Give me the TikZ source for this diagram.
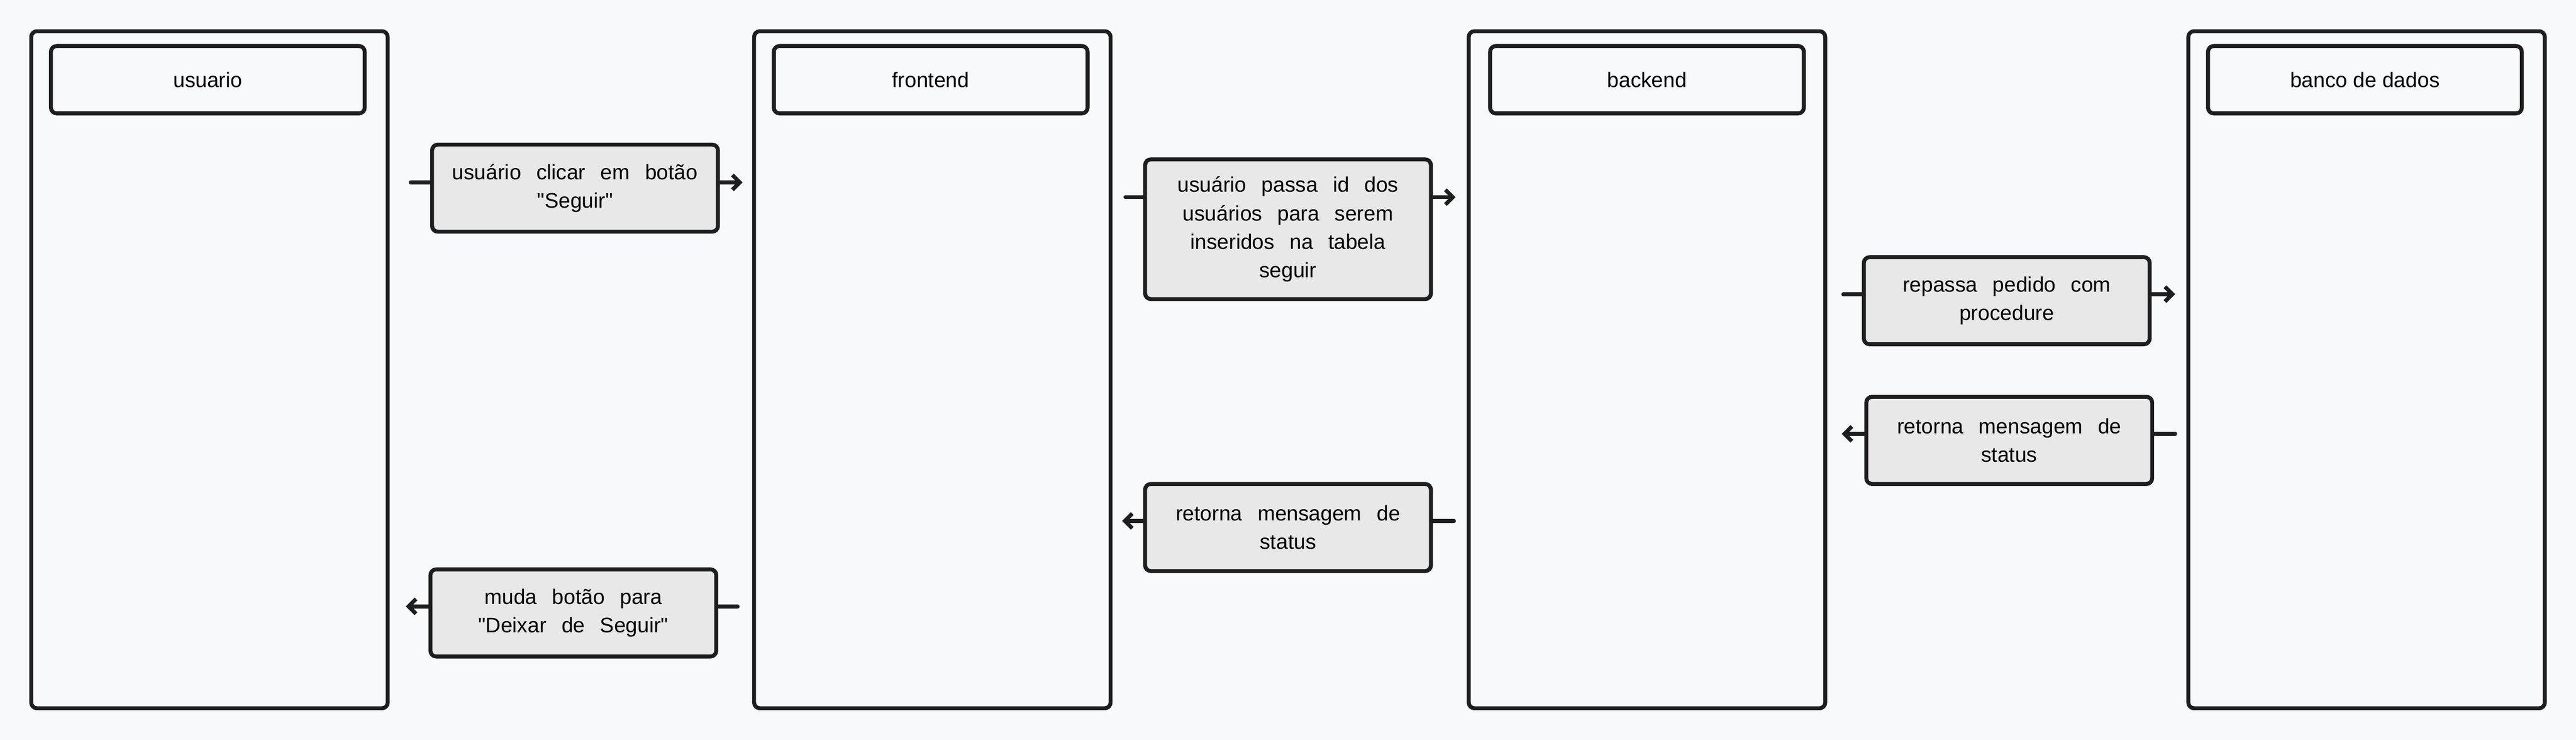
\documentclass[tikz,border=0pt]{standalone}
\usepackage{fontspec}
\setmainfont{Liberation Sans}
\newfontfamily\fontemsg[WordSpace=2.6]{Liberation Sans}
\usetikzlibrary{positioning,arrows.meta}
\definecolor{fundo}{HTML}{F8F9FB}
\definecolor{traco}{HTML}{1E1E1E}
\definecolor{caixa}{HTML}{E8E8E8}

\begin{document}
\begin{tikzpicture}[x=1pt, y=-1pt,
    raia/.style={draw=traco, fill=fundo, line width=2.4pt, rounded corners=3.5pt,
        minimum width=217pt, minimum height=412pt, inner sep=0pt},
    raia_titulo/.style={draw=traco, fill=fundo, line width=2.4pt, rounded corners=3.5pt,
        minimum width=191pt, minimum height=41pt, inner sep=0pt,
        font=\fontsize{12.8}{17.3}\selectfont},
    msg/.style={draw=traco, fill=caixa, line width=2.4pt, rounded corners=3.5pt,
        minimum width=174pt, minimum height=53pt, inner sep=0pt, align=center,
        font=\fontemsg\fontsize{12.8}{17.3}\selectfont},
    haste/.style={traco, line width=2.4pt, line cap=round},
    seta/.style={haste, -{Straight Barb[length=4.5pt, width=9pt]}}
]
    \fill[fundo] (0,0) rectangle (1568,450.27);
    \useasboundingbox (0,0) rectangle (1568,450.27);
    % Raias
    \node[raia] (usuario) at (127.5,225) {};
    \node[raia] (frontend) at (567.5,225) {};
    \node[raia] (backend) at (1002.5,225) {};
    \node[raia] (banco) at (1440.5,225) {};
    % Titulos
    \node[raia_titulo] (t_usuario) at (126.5,48.5) {usuario};
    \node[raia_titulo] (t_frontend) at (566.5,48.5) {frontend};
    \node[raia_titulo] (t_backend) at (1002.5,48.5) {backend};
    \node[raia_titulo] (t_banco) at (1439.5,48.5) {banco de dados};
    % Mensagens
    \node[msg] (m1) at (350,114.5) {usuário clicar em botão\\"Seguir"};
    \node[msg, minimum height=85pt] (m2) at (784,139.5)
        {usuário passa id dos\\usuários para serem\\inseridos na tabela\\seguir};
    \node[msg] (m3) at (1221.5,183) {repassa pedido com\\procedure};
    \node[msg] (m4) at (1223,268) {retorna mensagem de\\status};
    \node[msg] (m5) at (784,321) {retorna mensagem de\\status};
    \node[msg] (m6) at (349,373) {muda botão para\\"Deixar de Seguir"};
    % Pontas livres das setas
    \coordinate (m1_a) at (250,111);  \coordinate (m1_b) at (452,111);
    \coordinate (m2_a) at (685,120);  \coordinate (m2_b) at (886,120);
    \coordinate (m3_a) at (1122,179); \coordinate (m3_b) at (1324,179);
    \coordinate (m4_a) at (1324,264); \coordinate (m4_b) at (1121,264);
    \coordinate (m5_a) at (885,317);  \coordinate (m5_b) at (683,317);
    \coordinate (m6_a) at (449,369);  \coordinate (m6_b) at (247,369);
    % Ida
    \draw[haste] (m1_a) -- (m1_a -| m1.west);
    \draw[seta] (m1_a -| m1.east) -- (m1_b);
    \draw[haste] (m2_a) -- (m2_a -| m2.west);
    \draw[seta] (m2_a -| m2.east) -- (m2_b);
    \draw[haste] (m3_a) -- (m3_a -| m3.west);
    \draw[seta] (m3_a -| m3.east) -- (m3_b);
    % Volta
    \draw[haste] (m4_a) -- (m4_a -| m4.east);
    \draw[seta] (m4_a -| m4.west) -- (m4_b);
    \draw[haste] (m5_a) -- (m5_a -| m5.east);
    \draw[seta] (m5_a -| m5.west) -- (m5_b);
    \draw[haste] (m6_a) -- (m6_a -| m6.east);
    \draw[seta] (m6_a -| m6.west) -- (m6_b);
\end{tikzpicture}
\end{document}
